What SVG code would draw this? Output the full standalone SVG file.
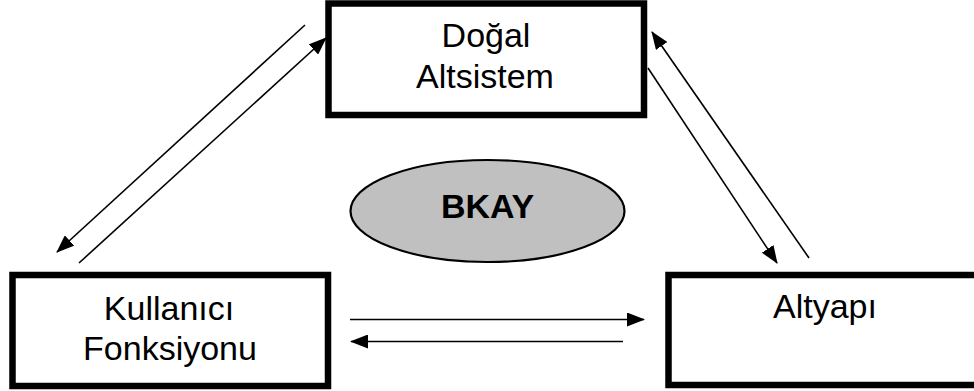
<svg xmlns="http://www.w3.org/2000/svg" width="974" height="391" viewBox="0 0 974 391">
<style>
.box{fill:#fff;stroke:#000;stroke-width:6.5}
.lbl{font-family:"Liberation Sans",Arial,sans-serif;font-size:34px;fill:#000;text-anchor:middle}
.conn{stroke:#000;stroke-width:1.6;fill:none}
</style>
<defs>
<marker id="ah" markerUnits="userSpaceOnUse" markerWidth="18" markerHeight="14" refX="17" refY="7" orient="auto">
<path d="M0,0 L18,7 L0,14 Z" fill="#000"/>
</marker>
</defs>
<rect width="974" height="391" fill="#fff"/>
<g id="node-dogal">
<rect class="box" x="328.5" y="3.5" width="315.5" height="111.5"/>
<text class="lbl" x="486" y="47">Doğal</text>
<text class="lbl" x="485" y="87.5">Altsistem</text>
</g>
<g id="node-kullanici">
<rect class="box" x="12.5" y="275" width="315.5" height="111"/>
<text class="lbl" x="169" y="320">Kullanıcı</text>
<text class="lbl" x="170" y="360">Fonksiyonu</text>
</g>
<g id="node-altyapi">
<rect class="box" x="668.5" y="275" width="320" height="110"/>
<text class="lbl" x="825" y="318">Altyapı</text>
</g>
<g id="node-bkay">
<ellipse cx="487.5" cy="211" rx="137" ry="51" fill="#c0c0c0" stroke="#000" stroke-width="2.2"/>
<text class="lbl" x="487.5" y="218" font-weight="bold" font-size="33">BKAY</text>
</g>
<g id="connectors">
<line class="conn" x1="305" y1="25" x2="57" y2="252" marker-end="url(#ah)"/>
<line class="conn" x1="79" y1="263" x2="326" y2="38" marker-end="url(#ah)"/>
<line class="conn" x1="809" y1="258" x2="652" y2="32" marker-end="url(#ah)"/>
<line class="conn" x1="648" y1="68" x2="777" y2="263" marker-end="url(#ah)"/>
<line class="conn" x1="350" y1="319.5" x2="644" y2="319.5" marker-end="url(#ah)"/>
<line class="conn" x1="623" y1="341.5" x2="351" y2="341.5" marker-end="url(#ah)"/>
</g>
</svg>
